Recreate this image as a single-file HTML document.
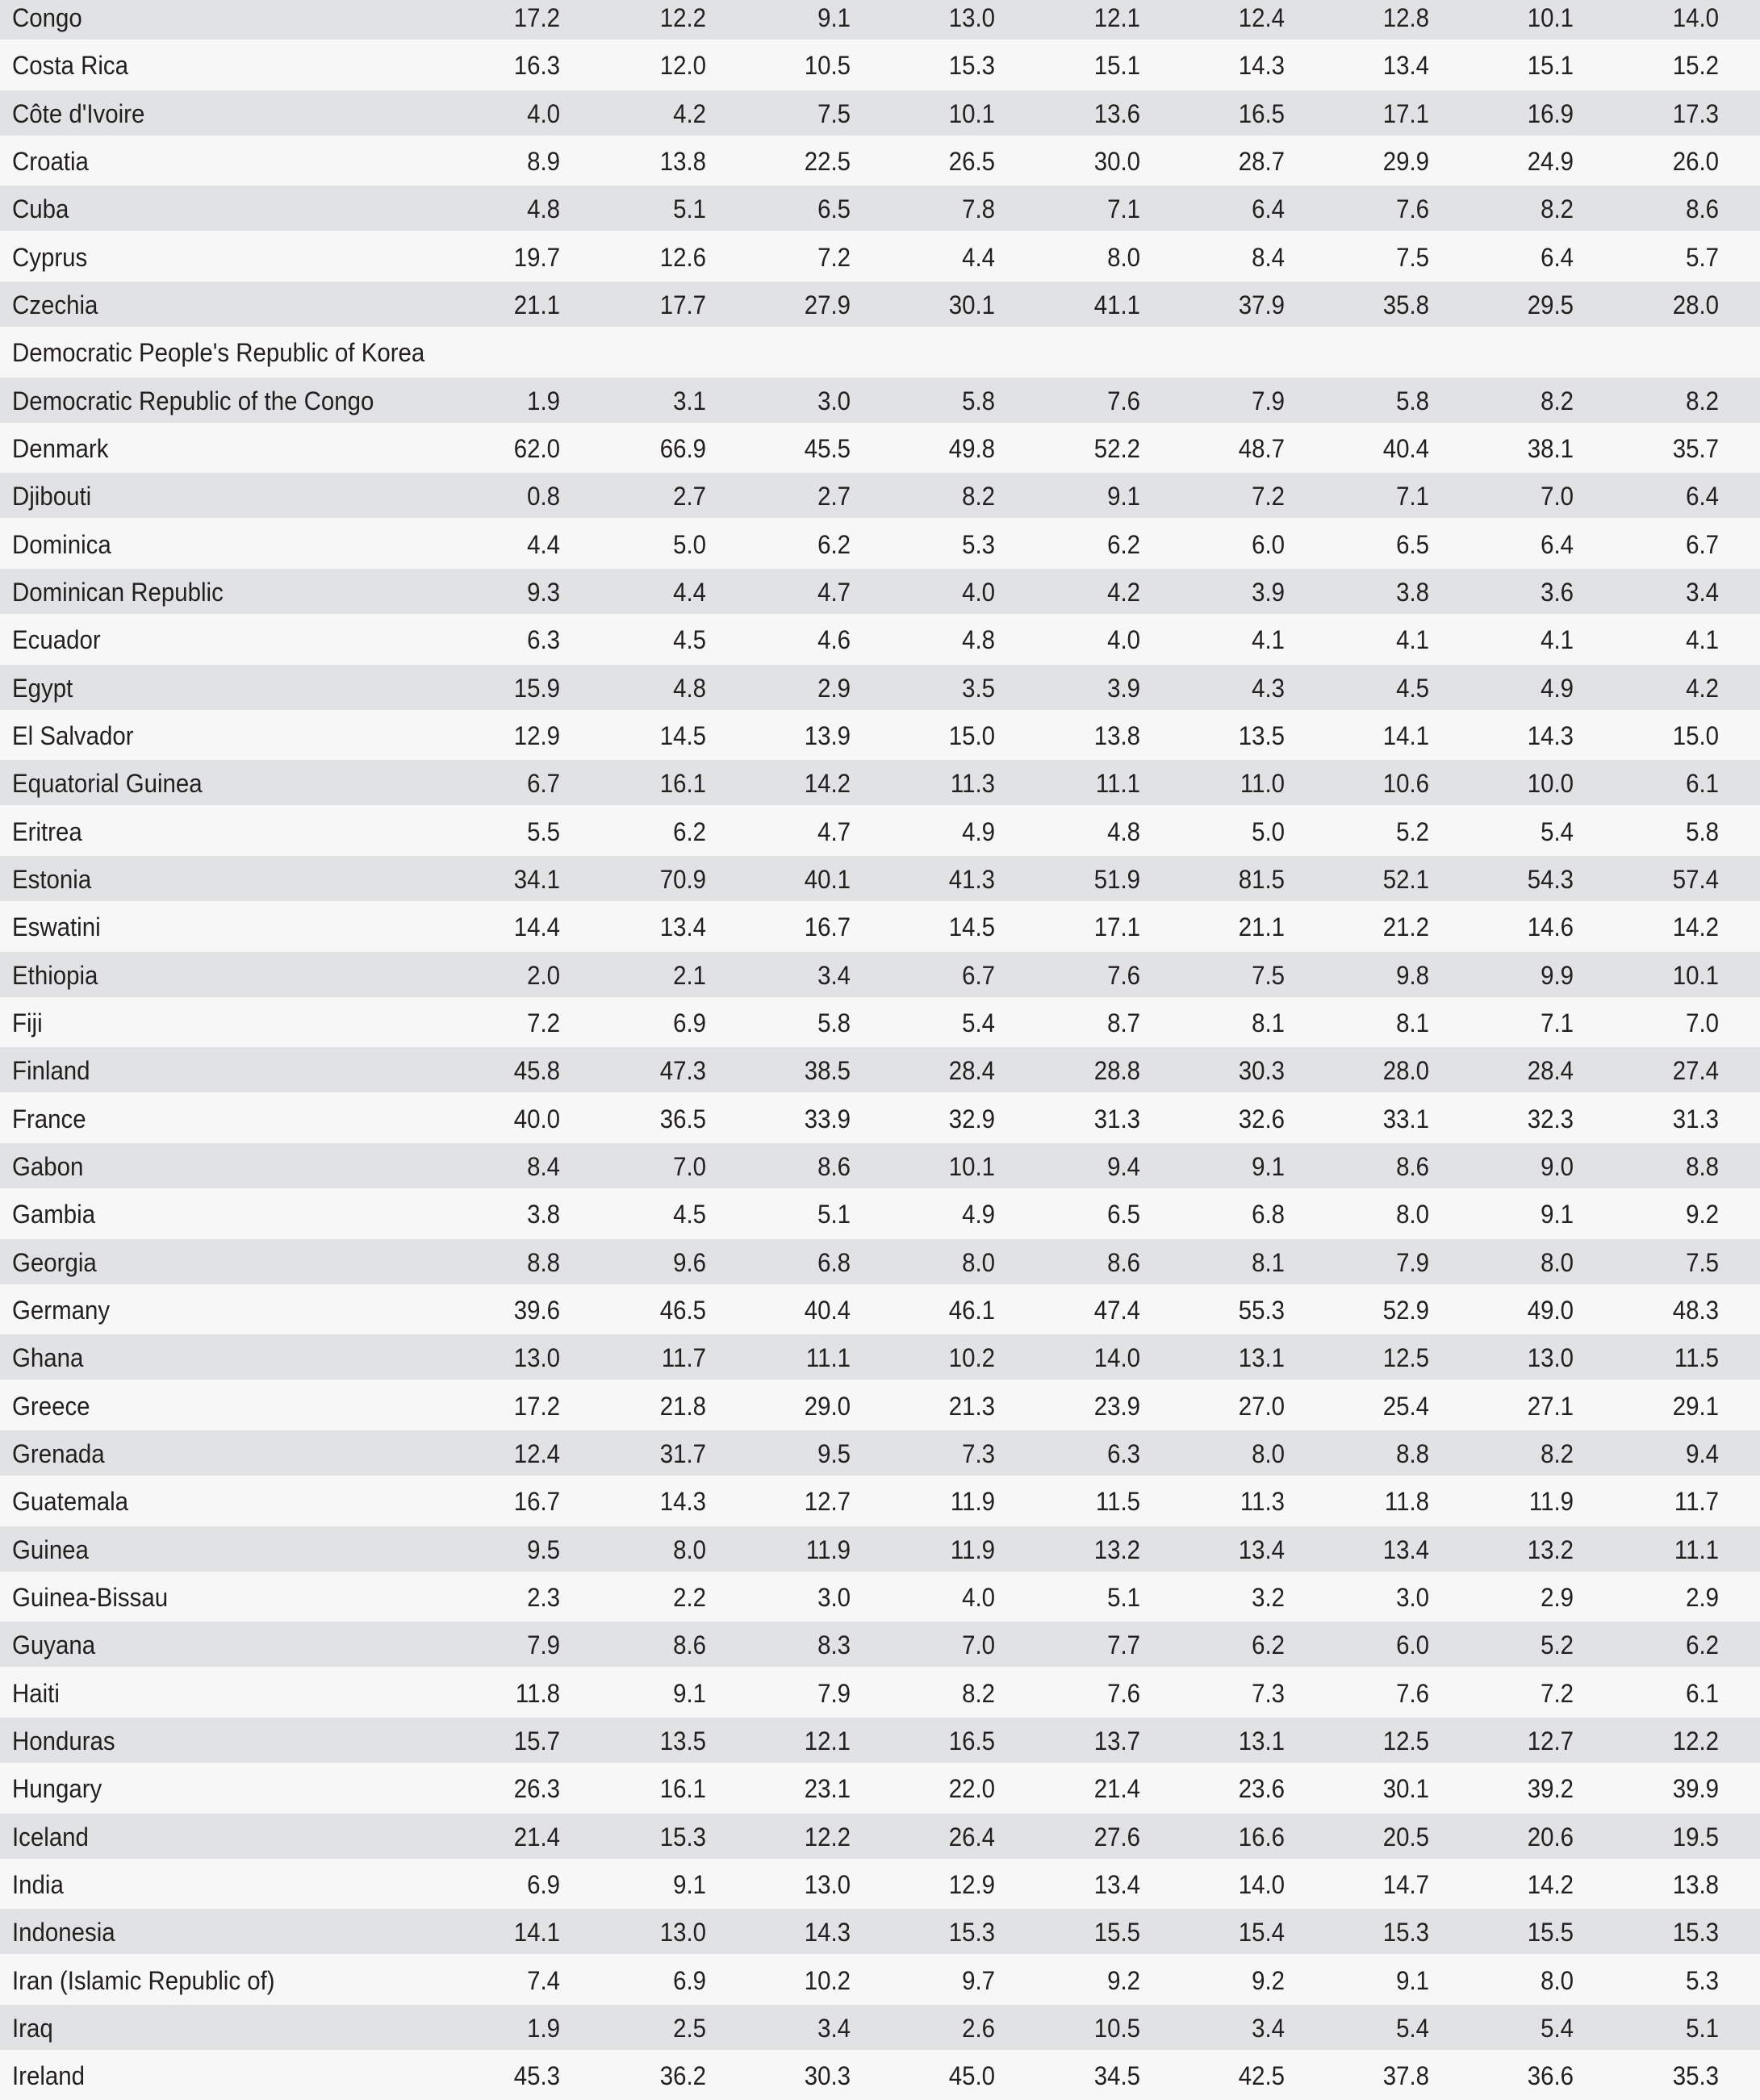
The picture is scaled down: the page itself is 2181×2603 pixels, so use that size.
<!DOCTYPE html>
<html><head><meta charset="utf-8"><style>
body{margin:0;width:2181px;height:2603px;overflow:hidden;background:#f7f7f7;font-family:"Liberation Sans",sans-serif;color:#231f20}
.r{position:absolute;left:0;width:2181px;height:56px;}
.g{background:#e1e2e4}
.w{background:#f7f7f7}
.t{position:absolute;top:0;line-height:58px;font-size:32px;white-space:nowrap}
.n{left:15px;transform:scaleX(0.92);transform-origin:left}
.v{text-align:right;width:160px;transform:scaleX(0.92);transform-origin:right}
</style></head><body>
<div id="c"></div>
<script>
const d=[
["Congo","17.2 12.2 9.1 13.0 12.1 12.4 12.8 10.1 14.0"],
["Costa Rica","16.3 12.0 10.5 15.3 15.1 14.3 13.4 15.1 15.2"],
["Côte d'Ivoire","4.0 4.2 7.5 10.1 13.6 16.5 17.1 16.9 17.3"],
["Croatia","8.9 13.8 22.5 26.5 30.0 28.7 29.9 24.9 26.0"],
["Cuba","4.8 5.1 6.5 7.8 7.1 6.4 7.6 8.2 8.6"],
["Cyprus","19.7 12.6 7.2 4.4 8.0 8.4 7.5 6.4 5.7"],
["Czechia","21.1 17.7 27.9 30.1 41.1 37.9 35.8 29.5 28.0"],
["Democratic People's Republic of Korea",""],
["Democratic Republic of the Congo","1.9 3.1 3.0 5.8 7.6 7.9 5.8 8.2 8.2"],
["Denmark","62.0 66.9 45.5 49.8 52.2 48.7 40.4 38.1 35.7"],
["Djibouti","0.8 2.7 2.7 8.2 9.1 7.2 7.1 7.0 6.4"],
["Dominica","4.4 5.0 6.2 5.3 6.2 6.0 6.5 6.4 6.7"],
["Dominican Republic","9.3 4.4 4.7 4.0 4.2 3.9 3.8 3.6 3.4"],
["Ecuador","6.3 4.5 4.6 4.8 4.0 4.1 4.1 4.1 4.1"],
["Egypt","15.9 4.8 2.9 3.5 3.9 4.3 4.5 4.9 4.2"],
["El Salvador","12.9 14.5 13.9 15.0 13.8 13.5 14.1 14.3 15.0"],
["Equatorial Guinea","6.7 16.1 14.2 11.3 11.1 11.0 10.6 10.0 6.1"],
["Eritrea","5.5 6.2 4.7 4.9 4.8 5.0 5.2 5.4 5.8"],
["Estonia","34.1 70.9 40.1 41.3 51.9 81.5 52.1 54.3 57.4"],
["Eswatini","14.4 13.4 16.7 14.5 17.1 21.1 21.2 14.6 14.2"],
["Ethiopia","2.0 2.1 3.4 6.7 7.6 7.5 9.8 9.9 10.1"],
["Fiji","7.2 6.9 5.8 5.4 8.7 8.1 8.1 7.1 7.0"],
["Finland","45.8 47.3 38.5 28.4 28.8 30.3 28.0 28.4 27.4"],
["France","40.0 36.5 33.9 32.9 31.3 32.6 33.1 32.3 31.3"],
["Gabon","8.4 7.0 8.6 10.1 9.4 9.1 8.6 9.0 8.8"],
["Gambia","3.8 4.5 5.1 4.9 6.5 6.8 8.0 9.1 9.2"],
["Georgia","8.8 9.6 6.8 8.0 8.6 8.1 7.9 8.0 7.5"],
["Germany","39.6 46.5 40.4 46.1 47.4 55.3 52.9 49.0 48.3"],
["Ghana","13.0 11.7 11.1 10.2 14.0 13.1 12.5 13.0 11.5"],
["Greece","17.2 21.8 29.0 21.3 23.9 27.0 25.4 27.1 29.1"],
["Grenada","12.4 31.7 9.5 7.3 6.3 8.0 8.8 8.2 9.4"],
["Guatemala","16.7 14.3 12.7 11.9 11.5 11.3 11.8 11.9 11.7"],
["Guinea","9.5 8.0 11.9 11.9 13.2 13.4 13.4 13.2 11.1"],
["Guinea-Bissau","2.3 2.2 3.0 4.0 5.1 3.2 3.0 2.9 2.9"],
["Guyana","7.9 8.6 8.3 7.0 7.7 6.2 6.0 5.2 6.2"],
["Haiti","11.8 9.1 7.9 8.2 7.6 7.3 7.6 7.2 6.1"],
["Honduras","15.7 13.5 12.1 16.5 13.7 13.1 12.5 12.7 12.2"],
["Hungary","26.3 16.1 23.1 22.0 21.4 23.6 30.1 39.2 39.9"],
["Iceland","21.4 15.3 12.2 26.4 27.6 16.6 20.5 20.6 19.5"],
["India","6.9 9.1 13.0 12.9 13.4 14.0 14.7 14.2 13.8"],
["Indonesia","14.1 13.0 14.3 15.3 15.5 15.4 15.3 15.5 15.3"],
["Iran (Islamic Republic of)","7.4 6.9 10.2 9.7 9.2 9.2 9.1 8.0 5.3"],
["Iraq","1.9 2.5 3.4 2.6 10.5 3.4 5.4 5.4 5.1"],
["Ireland","45.3 36.2 30.3 45.0 34.5 42.5 37.8 36.6 35.3"]];
const R=[694,875,1054,1233,1413,1592,1771,1950,2130];
let h="";
d.forEach((r,i)=>{
 const top=-7+59.33*i;
 h+=`<div class="r ${i%2?'w':'g'}" style="top:${top.toFixed(1)}px"><div class="t n">${r[0]}</div>`;
 if(r[1]) r[1].split(" ").forEach((v,j)=>{h+=`<div class="t v" style="left:${R[j]-160}px">${v}</div>`});
 h+="</div>";
});
document.getElementById("c").innerHTML=h;
</script>
</body></html>
